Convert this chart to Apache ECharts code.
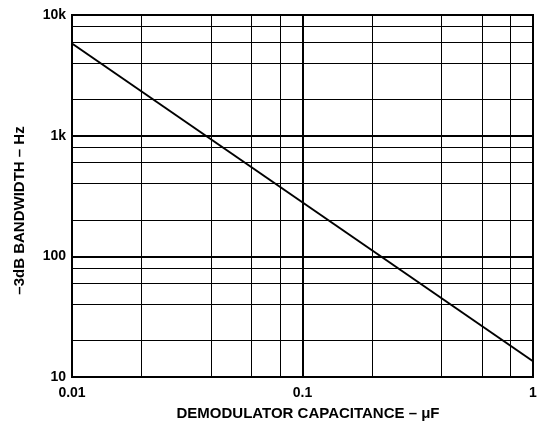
<!DOCTYPE html>
<html>
<head>
<meta charset="utf-8">
<script src="https://cdn.jsdelivr.net/npm/echarts@6/dist/echarts.min.js"></script>
<style>html,body{margin:0;padding:0;background:#fff;}#c{width:543px;height:426px;}</style>
</head>
<body>
<div id="c"></div>
<script>
// Data
var capacitance = [0.01, 1];          // µF
var bandwidth = [5800, 13.5];         // Hz
var xTicks = [0.01, 0.1, 1];
var xTickLabels = ['0.01', '0.1', '1'];
var yTicks = [10, 100, 1000, 10000];
var yTickLabels = ['10', '100', '1k', '10k'];
var xMinorGrid = [0.02, 0.04, 0.06, 0.08, 0.2, 0.4, 0.6, 0.8];
var yMinorGrid = [20, 40, 60, 80, 200, 400, 600, 800, 2000, 4000, 6000, 8000];

var font = 'Liberation Sans, Arial, sans-serif';
var chart = echarts.init(document.getElementById('c'), null, {renderer: 'canvas'});

function labelFor(ticks, labels) {
  return function (v) {
    for (var i = 0; i < ticks.length; i++) {
      if (Math.abs(Math.log10(v) - Math.log10(ticks[i])) < 1e-6) return labels[i];
    }
    return '';
  };
}

var minorLines = xMinorGrid.map(function (v) { return {xAxis: v}; })
  .concat(yMinorGrid.map(function (v) { return {yAxis: v}; }));

chart.setOption({
  animation: false,
  backgroundColor: '#fff',
  grid: {left: 72, right: 10, top: 15, bottom: 43, show: true, borderColor: '#000', borderWidth: 2, backgroundColor: 'transparent'},
  xAxis: {
    type: 'log', logBase: 10, min: 0.01, max: 1,
    axisLine: {show: false}, axisTick: {show: false},
    splitLine: {show: true, lineStyle: {color: '#000', width: 2}},
    axisLabel: {formatter: labelFor(xTicks, xTickLabels), color: '#000', fontFamily: font, fontWeight: 'bold', fontSize: 14, margin: 9},
    name: 'DEMODULATOR CAPACITANCE – μF', nameLocation: 'middle', nameGap: 29,
    nameTextStyle: {color: '#000', fontFamily: font, fontWeight: 'bold', fontSize: 15, padding: [0, 0, 0, 11]}
  },
  yAxis: {
    type: 'log', logBase: 10, min: 10, max: 10000,
    axisLine: {show: false}, axisTick: {show: false},
    splitLine: {show: true, lineStyle: {color: '#000', width: 2}},
    axisLabel: {formatter: labelFor(yTicks, yTickLabels), color: '#000', fontFamily: font, fontWeight: 'bold', fontSize: 14, margin: 6},
    name: '–3dB BANDWIDTH – Hz', nameLocation: 'middle', nameGap: 45,
    nameTextStyle: {color: '#000', fontFamily: font, fontWeight: 'bold', fontSize: 15, padding: [0, 29, 0, 0]}
  },
  series: [{
    type: 'line',
    data: capacitance.map(function (c, i) { return [c, bandwidth[i]]; }),
    symbol: 'none',
    lineStyle: {color: '#000', width: 2},
    z: 5,
    markLine: {
      silent: true, symbol: 'none', label: {show: false},
      lineStyle: {color: '#000', width: 1, type: 'solid'},
      data: minorLines, z: 1
    }
  }]
});
</script>
</body>
</html>
